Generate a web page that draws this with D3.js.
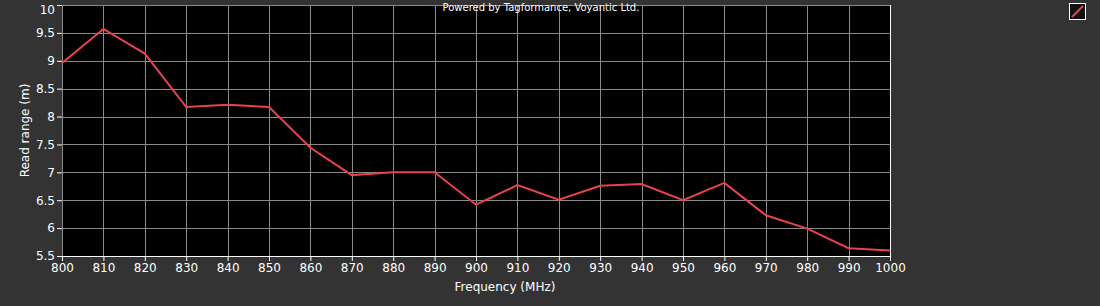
<!DOCTYPE html>
<html><head><meta charset="utf-8">
<script src="https://cdn.jsdelivr.net/npm/d3@7"></script>
<style>body{margin:0;background:#333333;}svg{display:block;}</style>
</head><body>
<svg id="c" width="1100" height="306"></svg>
<script>
const frequencies = [800,810,820,830,840,850,860,870,880,890,900,910,920,930,940,950,960,970,980,990,1000];
const readRange = [8.96,9.57,9.13,8.17,8.21,8.17,7.44,6.95,7.0,7.0,6.42,6.77,6.51,6.76,6.79,6.5,6.81,6.23,5.99,5.64,5.6];
const xTicks = [800,810,820,830,840,850,860,870,880,890,900,910,920,930,940,950,960,970,980,990,1000];
const yTicks = [5.5,6,6.5,7,7.5,8,8.5,9,9.5,10];
const xLabel = "Frequency (MHz)";
const yLabel = "Read range (m)";
const credit = "Powered by Tagformance, Voyantic Ltd.";

const svg = d3.select("#c");
const L=62, R=890, T=5, B=256;
const x = d3.scaleLinear().domain([800,1000]).range([L,R]);
const y = d3.scaleLinear().domain([5.5,10]).range([B,T]);
const font = "Tahoma, 'DejaVu Sans', sans-serif";

svg.append("rect").attr("x",L).attr("y",T).attr("width",R-L).attr("height",B-T).attr("fill","#000");

const grid = svg.append("g").attr("stroke","#8a8a8a").attr("stroke-width",1);
xTicks.forEach(t=>grid.append("line").attr("x1",Math.round(x(t))+0.5).attr("x2",Math.round(x(t))+0.5).attr("y1",T).attr("y2",B));
yTicks.forEach(t=>grid.append("line").attr("x1",L).attr("x2",R).attr("y1",Math.round(y(t))+0.5).attr("y2",Math.round(y(t))+0.5));

// borders
svg.append("line").attr("x1",L).attr("x2",R+0.5).attr("y1",B+0.5).attr("y2",B+0.5).attr("stroke","#fff");
svg.append("line").attr("x1",R+0.5).attr("x2",R+0.5).attr("y1",T).attr("y2",B).attr("stroke","#fff");

const xa = svg.append("g").attr("transform",`translate(0,${B})`)
  .call(d3.axisBottom(x).tickValues(xTicks).tickFormat(d3.format("d")).tickSize(5).tickPadding(2));
xa.select(".domain").remove();
xa.selectAll("line").attr("stroke","#fff");
xa.selectAll("text").attr("fill","#fff").style("font-family",font).style("font-size","12px");

const ya = svg.append("g").attr("transform",`translate(${L},0)`)
  .call(d3.axisLeft(y).tickValues(yTicks).tickFormat(d=>String(d)).tickSize(5).tickPadding(2));
ya.select(".domain").remove();
ya.selectAll("line").attr("stroke","#fff");
ya.selectAll("text").attr("fill","#fff").style("font-family",font).style("font-size","12px");
ya.selectAll(".tick").filter(d=>d===10).select("text").attr("dy","0.72em");

const data = frequencies.map((f,i)=>({f, v:readRange[i]}));
svg.append("path").datum(data)
  .attr("d", d3.line().x(d=>x(d.f)).y(d=>y(d.v)))
  .attr("fill","none").attr("stroke","#e8424e").attr("stroke-width",2);

svg.append("text").attr("x",541).attr("y",11).attr("text-anchor","middle")
  .attr("fill","#fff").style("font-family",font).style("font-size","10px").text(credit);

svg.append("text").attr("x",505).attr("y",291).attr("text-anchor","middle")
  .attr("fill","#fff").style("font-family",font).style("font-size","12px").text(xLabel);

svg.append("text").attr("transform",`translate(29,${(T+B)/2}) rotate(-90)`).attr("text-anchor","middle")
  .attr("fill","#fff").style("font-family",font).style("font-size","12px").text(yLabel);

// legend
const lg = svg.append("g");
lg.append("rect").attr("x",1069.5).attr("y",3.5).attr("width",16).attr("height",16).attr("fill","#111").attr("stroke","#fff").attr("stroke-width",1);
lg.append("line").attr("x1",1072).attr("y1",17).attr("x2",1083).attr("y2",6).attr("stroke","#e8424e").attr("stroke-width",2);
</script>
</body></html>
